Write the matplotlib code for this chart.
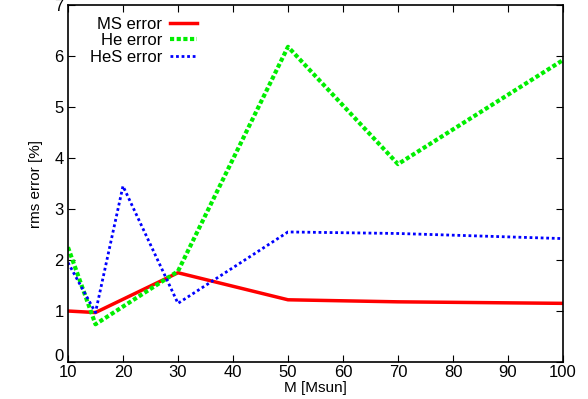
import matplotlib
matplotlib.use("Agg")
import matplotlib.pyplot as plt
import matplotlib.transforms as mtransforms

# -----------------------------------
# DATA
# -----------------------------------
mass_ms = [10, 15, 30, 50, 70, 100]
ms_error = [1.0, 0.97, 1.75, 1.22, 1.18, 1.15]

mass_he = [10, 15, 30, 50, 70, 100]
he_error = [2.25, 0.74, 1.78, 6.18, 3.88, 5.92]

mass_hes = [10, 15, 20, 30, 50, 70, 100]
hes_error = [1.95, 0.97, 3.45, 1.15, 2.55, 2.52, 2.42]

x_ticks = [10, 20, 30, 40, 50, 60, 70, 80, 90, 100]
y_ticks = [0, 1, 2, 3, 4, 5, 6, 7]

plt.rcParams['font.family'] = ['Liberation Sans', 'DejaVu Sans']

# -----------------------------------
# PLOT
# -----------------------------------
fig = plt.figure(figsize=(5.88, 3.99), dpi=100)
ax = fig.add_axes([0.1156, 0.0927, 0.8419, 0.8948])

ax.plot(mass_ms, ms_error, color='#ff0000', lw=2.5, label='MS error')
ax.plot(mass_he, he_error, color='#00ee00', lw=3, linestyle=(0, (1, 0.6)),
        label='He error')
ax.plot(mass_hes, hes_error, color='#0000ff', lw=2, linestyle=(0, (1, 1)),
        label='HeS error')

ax.set_xlim(10, 100)
ax.set_ylim(0, 7)
ax.set_xticks(x_ticks)
ax.set_yticks(y_ticks)
ax.tick_params(direction='in', top=True, right=True, length=5,
               labelsize=12)
ax.tick_params(axis='x', pad=2)
ax.tick_params(axis='y', pad=3)
for spine in ax.spines.values():
    spine.set_linewidth(1.2)

# nudge the "0" label up a little so it clears the "10" below it
shift = mtransforms.ScaledTranslation(0, 5 / 72, fig.dpi_scale_trans)
zero_label = ax.get_yticklabels()[0]
zero_label.set_transform(zero_label.get_transform() + shift)

ax.set_xlabel("M [Msun]", fontsize=11, labelpad=1)
ax.set_ylabel("rms error [%]", fontsize=11, labelpad=8)

ax.legend(loc='upper left', frameon=False, markerfirst=False,
          fontsize=12, handlelength=1.6, handletextpad=0.5,
          borderaxespad=0.3, labelspacing=0.1,
          bbox_to_anchor=(0.02, 1.0))

fig.savefig("out.png", dpi=100)
